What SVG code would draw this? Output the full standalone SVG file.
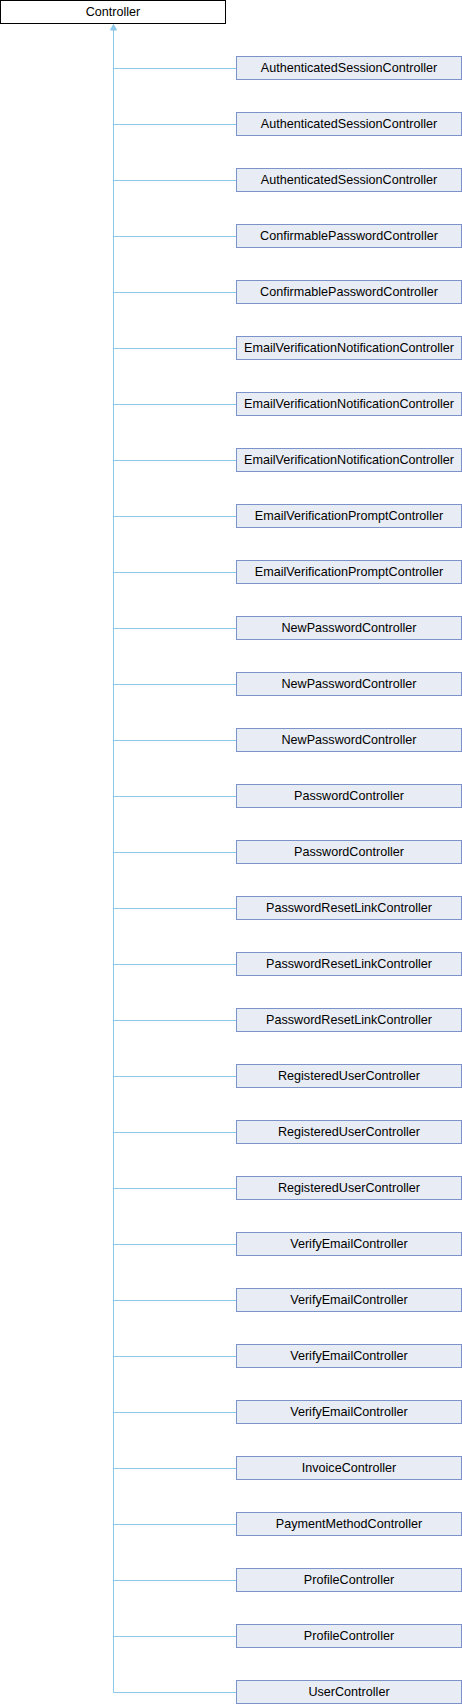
<svg xmlns="http://www.w3.org/2000/svg" width="462" height="1704" viewBox="0 0 462 1704">
<style>
.n rect{fill:#e8ecf5;stroke:#7b93c8;stroke-width:1}
.r rect{fill:#ffffff;stroke:#000000;stroke-width:1}
text{font-family:"Liberation Sans",Arial,sans-serif;font-size:12.6px;text-anchor:middle;fill:#000}
.e{fill:none;stroke:#8cc8ea;stroke-width:1}
</style>
<rect width="462" height="1704" fill="#ffffff"/>
<g id="connectors">
<path class="e" d="M113.5,29 V1692.5 M113.5,68.5 H236.5 M113.5,124.5 H236.5 M113.5,180.5 H236.5 M113.5,236.5 H236.5 M113.5,292.5 H236.5 M113.5,348.5 H236.5 M113.5,404.5 H236.5 M113.5,460.5 H236.5 M113.5,516.5 H236.5 M113.5,572.5 H236.5 M113.5,628.5 H236.5 M113.5,684.5 H236.5 M113.5,740.5 H236.5 M113.5,796.5 H236.5 M113.5,852.5 H236.5 M113.5,908.5 H236.5 M113.5,964.5 H236.5 M113.5,1020.5 H236.5 M113.5,1076.5 H236.5 M113.5,1132.5 H236.5 M113.5,1188.5 H236.5 M113.5,1244.5 H236.5 M113.5,1300.5 H236.5 M113.5,1356.5 H236.5 M113.5,1412.5 H236.5 M113.5,1468.5 H236.5 M113.5,1524.5 H236.5 M113.5,1580.5 H236.5 M113.5,1636.5 H236.5 M113.5,1692.5 H236.5"/>
<polygon points="113.5,24.5 110.5,30 116.5,30" fill="#8cc8ea" stroke="#8cc8ea" stroke-width="1"/>
</g>
<g id="Controller" class="r"><rect x="0.5" y="0.5" width="225" height="23"/><text x="113" y="15.5">Controller</text></g>
<g id="n1" class="n"><rect x="236.5" y="56.5" width="225" height="23"/><text x="349" y="71.5">AuthenticatedSessionController</text></g>
<g id="n2" class="n"><rect x="236.5" y="112.5" width="225" height="23"/><text x="349" y="127.5">AuthenticatedSessionController</text></g>
<g id="n3" class="n"><rect x="236.5" y="168.5" width="225" height="23"/><text x="349" y="183.5">AuthenticatedSessionController</text></g>
<g id="n4" class="n"><rect x="236.5" y="224.5" width="225" height="23"/><text x="349" y="239.5">ConfirmablePasswordController</text></g>
<g id="n5" class="n"><rect x="236.5" y="280.5" width="225" height="23"/><text x="349" y="295.5">ConfirmablePasswordController</text></g>
<g id="n6" class="n"><rect x="236.5" y="336.5" width="225" height="23"/><text x="349" y="351.5">EmailVerificationNotificationController</text></g>
<g id="n7" class="n"><rect x="236.5" y="392.5" width="225" height="23"/><text x="349" y="407.5">EmailVerificationNotificationController</text></g>
<g id="n8" class="n"><rect x="236.5" y="448.5" width="225" height="23"/><text x="349" y="463.5">EmailVerificationNotificationController</text></g>
<g id="n9" class="n"><rect x="236.5" y="504.5" width="225" height="23"/><text x="349" y="519.5">EmailVerificationPromptController</text></g>
<g id="n10" class="n"><rect x="236.5" y="560.5" width="225" height="23"/><text x="349" y="575.5">EmailVerificationPromptController</text></g>
<g id="n11" class="n"><rect x="236.5" y="616.5" width="225" height="23"/><text x="349" y="631.5">NewPasswordController</text></g>
<g id="n12" class="n"><rect x="236.5" y="672.5" width="225" height="23"/><text x="349" y="687.5">NewPasswordController</text></g>
<g id="n13" class="n"><rect x="236.5" y="728.5" width="225" height="23"/><text x="349" y="743.5">NewPasswordController</text></g>
<g id="n14" class="n"><rect x="236.5" y="784.5" width="225" height="23"/><text x="349" y="799.5">PasswordController</text></g>
<g id="n15" class="n"><rect x="236.5" y="840.5" width="225" height="23"/><text x="349" y="855.5">PasswordController</text></g>
<g id="n16" class="n"><rect x="236.5" y="896.5" width="225" height="23"/><text x="349" y="911.5">PasswordResetLinkController</text></g>
<g id="n17" class="n"><rect x="236.5" y="952.5" width="225" height="23"/><text x="349" y="967.5">PasswordResetLinkController</text></g>
<g id="n18" class="n"><rect x="236.5" y="1008.5" width="225" height="23"/><text x="349" y="1023.5">PasswordResetLinkController</text></g>
<g id="n19" class="n"><rect x="236.5" y="1064.5" width="225" height="23"/><text x="349" y="1079.5">RegisteredUserController</text></g>
<g id="n20" class="n"><rect x="236.5" y="1120.5" width="225" height="23"/><text x="349" y="1135.5">RegisteredUserController</text></g>
<g id="n21" class="n"><rect x="236.5" y="1176.5" width="225" height="23"/><text x="349" y="1191.5">RegisteredUserController</text></g>
<g id="n22" class="n"><rect x="236.5" y="1232.5" width="225" height="23"/><text x="349" y="1247.5">VerifyEmailController</text></g>
<g id="n23" class="n"><rect x="236.5" y="1288.5" width="225" height="23"/><text x="349" y="1303.5">VerifyEmailController</text></g>
<g id="n24" class="n"><rect x="236.5" y="1344.5" width="225" height="23"/><text x="349" y="1359.5">VerifyEmailController</text></g>
<g id="n25" class="n"><rect x="236.5" y="1400.5" width="225" height="23"/><text x="349" y="1415.5">VerifyEmailController</text></g>
<g id="n26" class="n"><rect x="236.5" y="1456.5" width="225" height="23"/><text x="349" y="1471.5">InvoiceController</text></g>
<g id="n27" class="n"><rect x="236.5" y="1512.5" width="225" height="23"/><text x="349" y="1527.5">PaymentMethodController</text></g>
<g id="n28" class="n"><rect x="236.5" y="1568.5" width="225" height="23"/><text x="349" y="1583.5">ProfileController</text></g>
<g id="n29" class="n"><rect x="236.5" y="1624.5" width="225" height="23"/><text x="349" y="1639.5">ProfileController</text></g>
<g id="n30" class="n"><rect x="236.5" y="1680.5" width="225" height="23"/><text x="349" y="1695.5">UserController</text></g>
</svg>
